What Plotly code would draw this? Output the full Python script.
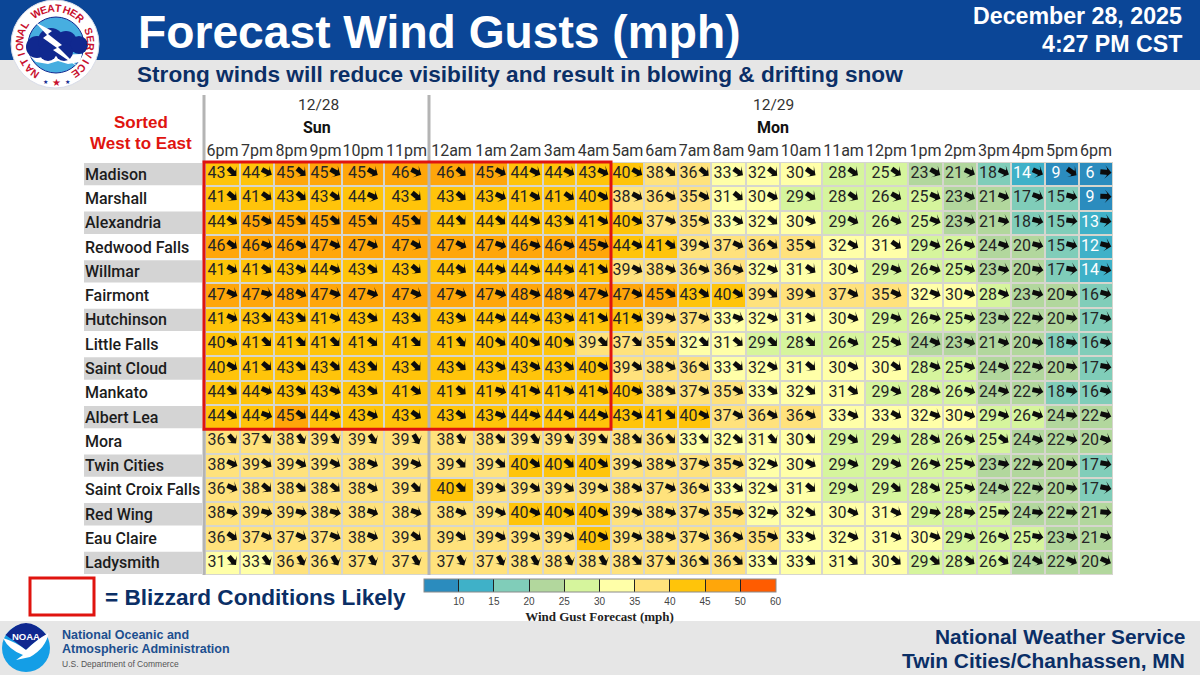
import numpy as np
import plotly.graph_objects as go

stations = ["Madison", "Marshall", "Alexandria", "Redwood Falls", "Willmar", "Fairmont", "Hutchinson",
            "Little Falls", "Saint Cloud", "Mankato", "Albert Lea", "Mora", "Twin Cities",
            "Saint Croix Falls", "Red Wing", "Eau Claire", "Ladysmith"]
hours = ["6pm", "7pm", "8pm", "9pm", "10pm", "11pm", "12am", "1am", "2am", "3am", "4am", "5am", "6am", "7am",
         "8am", "9am", "10am", "11am", "12pm", "1pm", "2pm", "3pm", "4pm", "5pm", "6pm"]

gusts = [
    [43, 44, 45, 45, 45, 46, 46, 45, 44, 44, 43, 40, 38, 36, 33, 32, 30, 28, 25, 23, 21, 18, 14, 9, 6],
    [41, 41, 43, 43, 44, 43, 43, 43, 41, 41, 40, 38, 36, 35, 31, 30, 29, 28, 26, 25, 23, 21, 17, 15, 9],
    [44, 45, 45, 45, 45, 45, 44, 44, 44, 43, 41, 40, 37, 35, 33, 32, 30, 29, 26, 25, 23, 21, 18, 15, 13],
    [46, 46, 46, 47, 47, 47, 47, 47, 46, 46, 45, 44, 41, 39, 37, 36, 35, 32, 31, 29, 26, 24, 20, 15, 12],
    [41, 41, 43, 44, 43, 43, 44, 44, 44, 44, 41, 39, 38, 36, 36, 32, 31, 30, 29, 26, 25, 23, 20, 17, 14],
    [47, 47, 48, 47, 47, 47, 47, 47, 48, 48, 47, 47, 45, 43, 40, 39, 39, 37, 35, 32, 30, 28, 23, 20, 16],
    [41, 43, 43, 41, 43, 43, 43, 44, 44, 43, 41, 41, 39, 37, 33, 32, 31, 30, 29, 26, 25, 23, 22, 20, 17],
    [40, 41, 41, 41, 41, 41, 41, 40, 40, 40, 39, 37, 35, 32, 31, 29, 28, 26, 25, 24, 23, 21, 20, 18, 16],
    [40, 41, 43, 43, 43, 43, 43, 43, 43, 43, 40, 39, 38, 36, 33, 32, 31, 30, 30, 28, 25, 24, 22, 20, 17],
    [44, 44, 43, 43, 43, 41, 41, 41, 41, 41, 41, 40, 38, 37, 35, 33, 32, 31, 29, 28, 26, 24, 22, 18, 16],
    [44, 44, 45, 44, 43, 43, 43, 43, 44, 44, 44, 43, 41, 40, 37, 36, 36, 33, 33, 32, 30, 29, 26, 24, 22],
    [36, 37, 38, 39, 39, 39, 38, 38, 39, 39, 39, 38, 36, 33, 32, 31, 30, 29, 29, 28, 26, 25, 24, 22, 20],
    [38, 39, 39, 39, 38, 39, 39, 39, 40, 40, 40, 39, 38, 37, 35, 32, 30, 29, 29, 26, 25, 23, 22, 20, 17],
    [36, 38, 38, 38, 38, 39, 40, 39, 39, 39, 39, 38, 37, 36, 33, 32, 31, 29, 29, 28, 25, 24, 22, 20, 17],
    [38, 39, 39, 38, 38, 38, 38, 39, 40, 40, 40, 39, 38, 37, 35, 32, 32, 30, 31, 29, 28, 25, 24, 22, 21],
    [36, 37, 37, 37, 38, 39, 39, 39, 39, 39, 40, 39, 38, 37, 36, 35, 33, 32, 31, 30, 29, 26, 25, 23, 21],
    [31, 33, 36, 36, 37, 37, 37, 37, 38, 38, 38, 38, 37, 36, 36, 33, 33, 31, 30, 29, 28, 26, 24, 22, 20],
]

# direction the arrow points, degrees clockwise from north
arrow_dir = [
    [135, 118, 130, 120, 120, 118, 130, 118, 118, 118, 115, 120, 130, 130, 125, 130, 125, 125, 125, 120, 115, 115, 115, 125, 95],
    [130, 125, 130, 125, 115, 130, 130, 115, 120, 125, 120, 118, 120, 118, 130, 118, 125, 125, 120, 115, 115, 110, 110, 105, 92],
    [125, 120, 130, 130, 135, 135, 135, 130, 120, 128, 120, 120, 115, 118, 120, 130, 118, 118, 115, 112, 110, 105, 105, 98, 100],
    [125, 112, 118, 115, 115, 120, 118, 110, 110, 112, 110, 118, 125, 118, 115, 125, 125, 120, 125, 112, 110, 110, 105, 105, 105],
    [120, 125, 120, 115, 125, 130, 125, 118, 118, 120, 125, 118, 115, 115, 112, 115, 125, 120, 112, 110, 110, 105, 100, 100, 105],
    [115, 105, 118, 110, 110, 115, 112, 110, 112, 115, 115, 118, 125, 125, 122, 130, 125, 118, 115, 112, 110, 112, 105, 102, 105],
    [115, 130, 130, 115, 125, 130, 125, 115, 115, 118, 122, 118, 115, 112, 110, 115, 125, 115, 110, 105, 105, 100, 100, 100, 105],
    [118, 135, 135, 135, 130, 135, 140, 125, 125, 125, 135, 135, 135, 135, 130, 135, 135, 115, 118, 115, 110, 110, 105, 100, 105],
    [120, 130, 130, 130, 135, 135, 130, 120, 118, 125, 120, 125, 120, 125, 130, 120, 130, 118, 125, 112, 110, 110, 105, 100, 100],
    [130, 115, 125, 115, 125, 125, 130, 110, 115, 115, 115, 115, 125, 120, 120, 125, 130, 125, 118, 112, 110, 110, 102, 100, 105],
    [125, 110, 125, 115, 115, 125, 125, 110, 110, 120, 115, 118, 130, 118, 118, 120, 118, 115, 120, 110, 110, 110, 110, 100, 105],
    [140, 140, 145, 145, 145, 150, 145, 135, 145, 145, 140, 135, 135, 135, 130, 140, 135, 125, 125, 120, 115, 125, 110, 105, 110],
    [115, 125, 120, 118, 115, 115, 135, 130, 125, 130, 125, 120, 115, 110, 110, 115, 120, 115, 118, 112, 108, 102, 100, 100, 100],
    [115, 130, 130, 130, 120, 135, 135, 125, 125, 125, 120, 120, 115, 120, 125, 125, 130, 120, 130, 120, 110, 110, 100, 100, 102],
    [105, 105, 105, 105, 110, 110, 112, 115, 115, 118, 120, 115, 110, 112, 105, 100, 125, 115, 115, 100, 100, 95, 98, 95, 95],
    [125, 115, 115, 112, 112, 125, 125, 118, 118, 118, 118, 115, 115, 115, 118, 110, 118, 115, 115, 110, 108, 110, 100, 105, 105],
    [140, 145, 150, 150, 150, 150, 150, 150, 150, 150, 150, 135, 135, 130, 130, 135, 130, 130, 130, 130, 125, 125, 120, 115, 115],
]

scale_edges = [5, 10, 15, 20, 25, 30, 35, 40, 45, 50, 60]
scale_colors = ["#2b8cbe", "#3fb1c8", "#80cdb9", "#b2d79d", "#d6f59d", "#ffffa8", "#ffe27c", "#ffc40a", "#ffa60a", "#ff5c00"]

W, H = 1200, 675
col_widths = [35, 34, 35, 33, 42, 45, 45, 34, 35, 33, 35, 33, 34, 33, 35, 34, 42, 43, 43, 35, 34, 34, 34, 34, 34]
grid_left, grid_top, grid_bottom = 205, 162, 575

NAVY = "#0b2f66"
BLUE = "#0b4697"
GRAY = "#e6e6e6"
RED = "#e0140f"
LOGO_NAVY = "#10288f"
SANS = "Liberation Sans"
CELL = "Roboto"


def px(x):
    return x / W


def py(y):
    return 1 - y / H


def path(points, tail=" Z"):
    return "M " + " L ".join(f"{px(x)},{py(y)}" for x, y in points) + tail


edges = np.concatenate([[0], np.cumsum(col_widths)])
centers = (edges[:-1] + edges[1:]) / 2
grid_right = grid_left + edges[-1]
row_px = (grid_bottom - grid_top) / len(stations)
rows = list(range(len(stations)))

z = np.digitize(np.array(gusts), scale_edges) - 0.5
n_bins = len(scale_colors)
colorscale = []
for i, c in enumerate(scale_colors):
    colorscale += [[i / n_bins, c], [(i + 1) / n_bins, c]]

fig = go.Figure()
fig.add_trace(go.Heatmap(
    z=z, x=edges, y=rows, zmin=0, zmax=n_bins, colorscale=colorscale, xgap=2, ygap=2, hoverinfo="skip",
    colorbar=dict(
        orientation="h", x=px(423.5), xanchor="left", xref="paper", y=py(579), yanchor="top", yref="paper",
        len=352 / W, lenmode="fraction", thickness=13, thicknessmode="pixels",
        outlinecolor="#8a8a8a", outlinewidth=1, borderwidth=0, xpad=0, ypad=0,
        tickmode="array", tickvals=list(range(1, n_bins + 1)), ticktext=[str(v) for v in scale_edges[1:]],
        ticks="inside", ticklen=13, tickwidth=1, tickcolor="#222222",
        tickfont=dict(family=SANS, size=10, color="#444444"),
        title=dict(text="<b>Wind Gust Forecast (mph)</b>", side="bottom",
                   font=dict(family="Liberation Serif", size=13, color="#222222")),
    ),
))

# number and arrow sit side by side in each cell
text_x, text_y, text_val, text_col, tip_x, tip_y, dirs = [], [], [], [], [], [], []
for r in rows:
    for c, val in enumerate(gusts[r]):
        text_x.append(centers[c] - 6)
        text_y.append(r)
        text_val.append(str(val))
        text_col.append("#ffffff" if val < 15 else "#262626")
        a = np.radians(arrow_dir[r][c])
        # marker tip sits on the point, so step forward from the arrow's middle
        tip_x.append(centers[c] + 10 + 5.5 * np.sin(a))
        tip_y.append(r + (-2 - 5.5 * np.cos(a)) / row_px)
        dirs.append(arrow_dir[r][c])

fig.add_trace(go.Scatter(x=text_x, y=text_y, mode="text", text=text_val, hoverinfo="skip",
                         textfont=dict(family=CELL, size=16, color=text_col), showlegend=False))
fig.add_trace(go.Scatter(x=tip_x, y=tip_y, mode="markers", hoverinfo="skip", showlegend=False,
                         marker=dict(symbol="line-ns", size=6, angle=dirs, standoff=7, color="#0c0c0c",
                                     line=dict(width=5, color="#0c0c0c"))))
fig.add_trace(go.Scatter(x=tip_x, y=tip_y, mode="markers", hoverinfo="skip", showlegend=False,
                         marker=dict(symbol="arrow-wide", size=9.5, angle=dirs, color="#0c0c0c",
                                     line=dict(width=0))))

shapes = []


def rect(x0, y0, x1, y1, fill, line=None, width=0, layer="below"):
    shapes.append(dict(type="rect", xref="paper", yref="paper", x0=px(x0), x1=px(x1), y0=py(y0), y1=py(y1),
                       fillcolor=fill, line=dict(color=line or fill, width=width), layer=layer))


def disk(cx, cy, r, fill, line=None, width=0):
    shapes.append(dict(type="circle", xref="paper", yref="paper", x0=px(cx - r), x1=px(cx + r),
                       y0=py(cy + r), y1=py(cy - r), fillcolor=fill,
                       line=dict(color=line or fill, width=width), layer="above"))


def blob(d, fill):
    shapes.append(dict(type="path", xref="paper", yref="paper", path=d, fillcolor=fill,
                       line=dict(color=fill, width=0), layer="above"))


rect(0, 0, W, 60, BLUE)
rect(0, 60, W, 90, GRAY)
rect(0, 621, W, H, GRAY)

# alternating label bands
for r in range(0, len(stations), 2):
    rect(84, grid_top + r * row_px + 1, 202, grid_top + (r + 1) * row_px - 1, "#d4d4d4")

# day dividers
for x in (grid_left - 1, grid_left + edges[6]):
    shapes.append(dict(type="line", xref="paper", yref="paper", x0=px(x), x1=px(x), y0=py(95), y1=py(grid_bottom),
                       line=dict(color="#b4b4b4", width=3), layer="above"))

# blizzard box
rect(grid_left - 1, grid_top, grid_left + edges[11], grid_top + 11 * row_px, "rgba(0,0,0,0)", RED, 3, "above")
rect(30, 578, 94, 615, "#ffffff", RED, 3, "above")

# NWS logo
disk(55, 44, 44, "#ffffff", "#d8dce8", 1)
disk(56, 45, 28, "#47aee0", LOGO_NAVY, 1)
blob(path([(30, 56), (82, 54), (80, 62), (68, 64), (58, 61), (48, 64), (36, 62)]), "#ffffff")
for cx, cy, r in [(37, 47, 11), (51, 41, 13), (66, 42, 11), (79, 45, 9), (48, 52, 9), (64, 52, 9)]:
    disk(cx, cy, r, LOGO_NAVY)
blob(path([(35, 22), (52, 31), (48, 34), (62, 45), (58, 47), (78, 67), (53, 50), (57, 48), (43, 38), (47, 35)]), "#ffffff")

# NOAA logo
disk(26, 648, 24, "#149ee6")
blob(f"M {px(5.5)},{py(635)} Q {px(26)},{py(611)} {px(46.5)},{py(635)} Q {px(36)},{py(640)} {px(26)},{py(650)} "
     f"Q {px(16)},{py(642)} {px(5.5)},{py(635)} Z", LOGO_NAVY)
blob(f"M {px(3)},{py(638)} Q {px(16)},{py(642)} {px(26)},{py(650)} Q {px(36)},{py(640)} {px(48.5)},{py(633)} "
     f"Q {px(46)},{py(648)} {px(30)},{py(657)} L {px(16)},{py(660)} L {px(23)},{py(655)} "
     f"Q {px(9)},{py(650)} {px(3)},{py(638)} Z", "#ffffff")

annotations = []


def label(x, y, text, size, color, anchor="center", family=SANS, weight=None, angle=0):
    font = dict(family=family, size=size, color=color)
    if weight:
        font["weight"] = weight
    annotations.append(dict(xref="paper", yref="paper", x=px(x), y=py(y), text=text, showarrow=False,
                            xanchor=anchor, yanchor="middle", font=font, textangle=angle,
                            borderpad=0, borderwidth=0))


label(138, 32, "<b>Forecast Wind Gusts (mph)</b>", 46.2, "#ffffff", "left")
label(1182, 16, "<b>December 28, 2025</b>", 23.2, "#ffffff", "right")
label(1182, 44, "<b>4:27 PM CST</b>", 23.2, "#ffffff", "right")
label(137, 74, "<b>Strong winds will reduce visibility and result in blowing &amp; drifting snow</b>", 22.6, NAVY, "left")
label(141, 122, "<b>Sorted</b>", 17, RED)
label(141, 143, "<b>West to East</b>", 17, RED)
label(318, 105, "12/28", 15.5, "#333333", family=CELL)
label(317, 128, "Sun", 16, "#111111", family=CELL, weight=700)
label(773, 105, "12/29", 15.5, "#333333", family=CELL)
label(773, 128, "Mon", 16, "#111111", family=CELL, weight=700)
label(105, 597, "<b>= Blizzard Conditions Likely</b>", 22.6, NAVY, "left")
label(62, 635, "<b>National Oceanic and</b>", 12.5, "#1c4f8f", "left")
label(62, 649, "<b>Atmospheric Administration</b>", 12.5, "#1c4f8f", "left")
label(62, 664, "U.S. Department of Commerce", 8.5, "#555555", "left")
label(26, 636, "<b>NOAA</b>", 9.5, "#ffffff")
label(1185, 636, "<b>National Weather Service</b>", 20.9, NAVY, "right")
label(1185, 660, "<b>Twin Cities/Chanhassen, MN</b>", 20.9, NAVY, "right")

for r, name in enumerate(stations):
    label(85, grid_top + (r + 0.5) * row_px, name, 16, "#1c1c1c", "left", family=CELL, weight=500)

# lettering around the NWS badge
ring_text = "NATIONAL WEATHER SERVICE"
ring_angles = np.linspace(-145, 145, len(ring_text))
for ch, a in zip(ring_text, ring_angles):
    if ch != " ":
        label(55 + 36 * np.sin(np.radians(a)), 44 - 36 * np.cos(np.radians(a)), f"<b>{ch}</b>", 10.5, "#c8102e", angle=a)
label(45, 82, "★", 6, LOGO_NAVY)
label(56, 83, "★", 10, "#c8102e")
label(67, 82, "★", 6, LOGO_NAVY)

fig.update_layout(
    width=W, height=H, margin=dict(l=0, r=0, t=0, b=0), paper_bgcolor="#ffffff", plot_bgcolor="#d6d6ce",
    showlegend=False, shapes=shapes, annotations=annotations,
    xaxis=dict(domain=[px(grid_left), px(grid_right)], range=[0, edges[-1]], side="top", showgrid=False, zeroline=False,
               tickmode="array", tickvals=centers, ticktext=hours, tickangle=0, ticks="", ticklabelstandoff=2,
               tickfont=dict(family=CELL, size=16, color="#333333")),
    yaxis=dict(domain=[py(grid_bottom), py(grid_top)], range=[len(stations) - 0.5, -0.5],
               showticklabels=False, showgrid=False, zeroline=False, ticks=""),
)

fig.write_html("out.html", config={"displayModeBar": False}, post_script="document.body.style.margin='0';")
